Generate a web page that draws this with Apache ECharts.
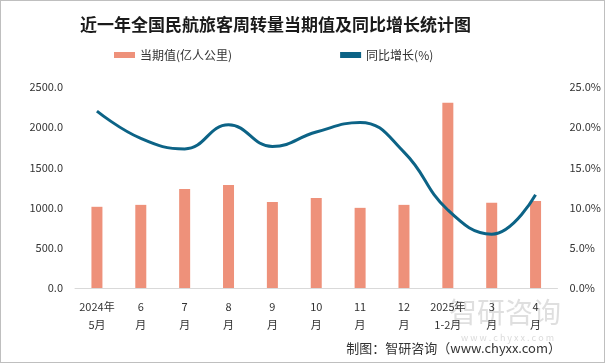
<!DOCTYPE html>
<html><head><meta charset="utf-8">
<script src="https://cdn.jsdelivr.net/npm/echarts@6/dist/echarts.min.js"></script>
<style>html,body{margin:0;padding:0;background:#fff}#c{width:603px;height:361px;border:1px solid #bfbfbf}</style>
</head><body><div id="c"></div>
<script>
const categories = ['2024年\n5月','6\n月','7\n月','8\n月','9\n月','10\n月','11\n月','12\n月','2025年\n1-2月','3\n月','4\n月'];
const volume = [1010,1034,1231,1281,1071,1120,997,1034,2303,1059,1083];
const growth = [22.0,18.6,17.3,20.3,17.6,19.4,20.6,16.9,9.7,6.7,11.6];
const leftTicks = [0,500,1000,1500,2000,2500];
const rightTicks = [0,5,10,15,20,25];
const font = '"Noto Sans CJK SC", "Noto Sans", sans-serif';
const chart = echarts.init(document.getElementById('c'));
chart.setOption({
  animation:false,
  textStyle:{fontFamily:font},
  title:{text:'近一年全国民航旅客周转量当期值及同比增长统计图',left:74,top:10,textStyle:{fontSize:17,fontWeight:'bold',color:'#1a1a1a',fontFamily:font}},
  legend:{top:43,left:108,itemGap:108,itemWidth:21,itemHeight:6,textStyle:{fontSize:12,color:'#333',fontFamily:font},
    data:[{name:'当期值(亿人公里)',icon:'rect'},{name:'同比增长(%)',icon:'rect'}]},
  graphic:[
    {type:'text',right:43,bottom:36,style:{text:'智研咨询',fontSize:28,fill:'rgba(150,150,150,0.3)',fontFamily:font}},
    {type:'text',right:50,bottom:20,style:{text:'w w w . c h y x x . c o m',fontSize:9,fill:'rgba(150,150,150,0.35)',fontFamily:font}},
    {type:'text',right:43,bottom:7,style:{text:'制图：智研咨询（www.chyxx.com）',fontSize:13,fill:'#333',fontFamily:font}}
  ],
  grid:{left:74,right:46,top:86,bottom:74},
  xAxis:{type:'category',data:categories,axisLine:{lineStyle:{color:'#d9d9d9'}},axisTick:{show:false},
    axisLabel:{interval:0,fontSize:11,color:'#333',lineHeight:18,margin:10,fontFamily:font}},
  yAxis:[
    {type:'value',min:0,max:2500,interval:500,splitLine:{show:false},axisLine:{show:false},axisTick:{show:false},
      axisLabel:{fontSize:11,color:'#333',formatter:v=>v.toFixed(1),margin:12}},
    {type:'value',min:0,max:25,interval:5,splitLine:{show:false},axisLine:{show:false},axisTick:{show:false},
      axisLabel:{fontSize:11,color:'#333',formatter:v=>v.toFixed(1)+'%',margin:12}}
  ],
  series:[
    {name:'当期值(亿人公里)',type:'bar',data:volume,barWidth:11,itemStyle:{color:'#EE917A'},yAxisIndex:0},
    {name:'同比增长(%)',type:'line',data:growth,yAxisIndex:1,smooth:0.45,symbol:'none',lineStyle:{color:'#0C6386',width:3},itemStyle:{color:'#0C6386'}}
  ]
});
</script></body></html>
